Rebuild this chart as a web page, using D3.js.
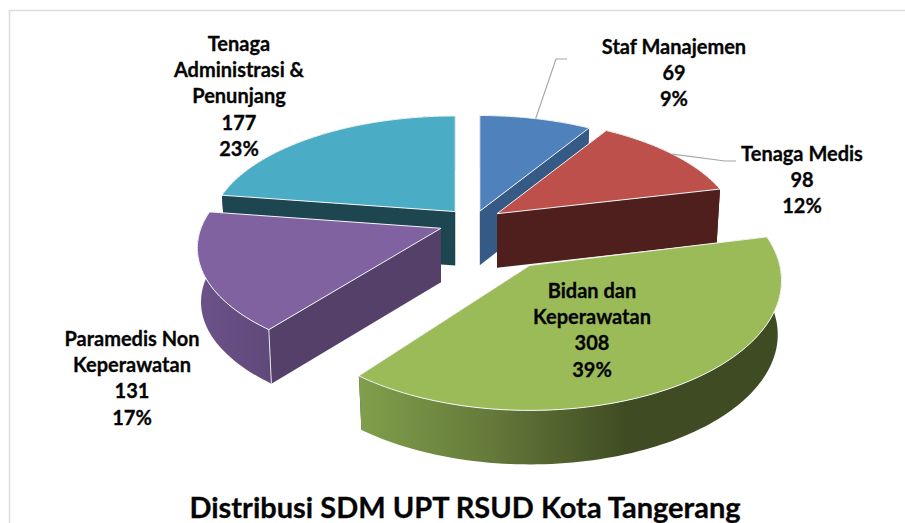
<!DOCTYPE html>
<html><head><meta charset="utf-8">
<script src="https://cdn.jsdelivr.net/npm/d3@7/dist/d3.min.js"></script>
<style>html,body{margin:0;padding:0;background:#fff}svg{display:block}text{font-family:Lato,"Open Sans",sans-serif;font-weight:700;fill:#050505;stroke:#050505;stroke-width:.3px}</style>
</head><body><div id="c"></div>
<script>
const categories=["Staf Manajemen","Tenaga Medis","Bidan dan Keperawatan","Paramedis Non Keperawatan","Tenaga Administrasi & Penunjang"];
const values=[69,98,308,131,177];
const percentLabels=["9%","12%","39%","17%","23%"];
const labelLines=[["Staf Manajemen"],["Tenaga Medis"],["Bidan dan","Keperawatan"],["Paramedis Non","Keperawatan"],["Tenaga","Administrasi &","Penunjang"]];
const topColors=["#4f81bd","#be504c","#9bbb59","#8162a0","#4bacc6"];
const cutColors=["#345a85","#4f1f1e","#3f4c23","#544068","#1e4650"];
const wallColors=["#345a85","#4f1f1e","url(#gGreen)","url(#gPurple)","#1e4650"];

const W=905,H=523,cx=473.5,cy=222,DEPTH=54,BOTTOM=0.985,LH=26.2;
const radiusX=[238,238,250,240,242];
const radiusY=[112,112,128,112,112];
const persp=[0.171,0.171,0.117,0.171,0.171];
const explode=[23,29,105,35,28];
const labelPos=[[674,54],[802,161],[592,298],[132,346],[239,51]];
const leaders=[[[556,59],[567,59]],[[725,161],[736,161]],null,null,null];

const svg=d3.select("#c").append("svg").attr("width",W).attr("height",H);
const defs=svg.append("defs");
function grad(id,x1,x2,stops){
  const g=defs.append("linearGradient").attr("id",id).attr("gradientUnits","userSpaceOnUse")
    .attr("x1",x1).attr("x2",x2).attr("y1",0).attr("y2",0);
  stops.forEach(s=>g.append("stop").attr("offset",s[0]).attr("stop-color",s[1]));
}
grad("gGreen",360,625,[[0,"#809f4b"],[0.5,"#64793a"],[1,"#3f4c23"]]);
grad("gPurple",200,275,[[0,"#6b5288"],[1,"#5f4879"]]);

const frame=svg.append("g").attr("fill","none").attr("stroke","#dcdcdc").attr("stroke-width",1.5);
frame.append("path").attr("d",`M9.5,${H} V10.5 H${W}`);

const pie=d3.pie().sort(null).value(d=>d).startAngle(0).endAngle(2*Math.PI);
const arcs=pie(values);

function rim(i,apex,a){
  const s=1/(1+persp[i]*Math.cos(a));
  return [apex[0]+radiusX[i]*Math.sin(a)*s, apex[1]-radiusY[i]*Math.cos(a)*s];
}
function down(p,apex){return [apex[0]+(p[0]-apex[0])*BOTTOM, p[1]+DEPTH];}
const line=d3.line();

const slices=arcs.map((d,i)=>{
  const mid=(d.startAngle+d.endAngle)/2;
  const apex=[cx+explode[i]*Math.sin(mid), cy-explode[i]*0.49*Math.cos(mid)];
  const n=Math.max(8,Math.ceil((d.endAngle-d.startAngle)*40));
  const angles=d3.range(n+1).map(k=>d.startAngle+(d.endAngle-d.startAngle)*k/n);
  return {i,d,mid,apex,pts:angles.map(a=>rim(i,apex,a))};
});

const g=svg.append("g");
[4,0,1,3,2].forEach(i=>{
  const s=slices[i],apex=s.apex,pts=s.pts,first=pts[0],last=pts[pts.length-1];
  const sg=g.append("g").attr("class","slice");
  const ab=[apex[0],apex[1]+DEPTH];
  [first,last].forEach(p=>{
    sg.append("path").attr("d",line([apex,p,down(p,apex),ab])+"Z").attr("fill",cutColors[i]);
  });
  const bottom=pts.map(p=>down(p,apex)).reverse();
  sg.append("path").attr("d",line(pts.concat(bottom))+"Z").attr("fill",wallColors[i]);
  if(i===3){
    sg.append("path").attr("d",line([first,down(first,apex)])).attr("stroke","#e8e4ee").attr("stroke-width",1).attr("fill","none");
  }
  sg.append("path").attr("d",line([apex].concat(pts))+"Z").attr("fill",topColors[i])
    .attr("stroke","#f4f6f8").attr("stroke-width",1).attr("stroke-linejoin","round");
});

slices.forEach((s,i)=>{
  if(!leaders[i])return;
  const p=rim(i,s.apex,s.mid);
  svg.append("path").attr("d",line([p].concat(leaders[i]))).attr("fill","none").attr("stroke","#a6a6a6").attr("stroke-width",1.2);
});

categories.forEach((c,i)=>{
  const lines=labelLines[i].concat([String(values[i]),percentLabels[i]]);
  const t=svg.append("text").attr("class","label").attr("text-anchor","middle").attr("font-size",20);
  lines.forEach((l,k)=>t.append("tspan").attr("x",labelPos[i][0]).attr("y",labelPos[i][1]+k*LH).text(l));
});

svg.append("text").attr("x",465).attr("y",518).attr("text-anchor","middle").attr("font-size",29).text("Distribusi SDM UPT RSUD Kota Tangerang");
</script></body></html>
